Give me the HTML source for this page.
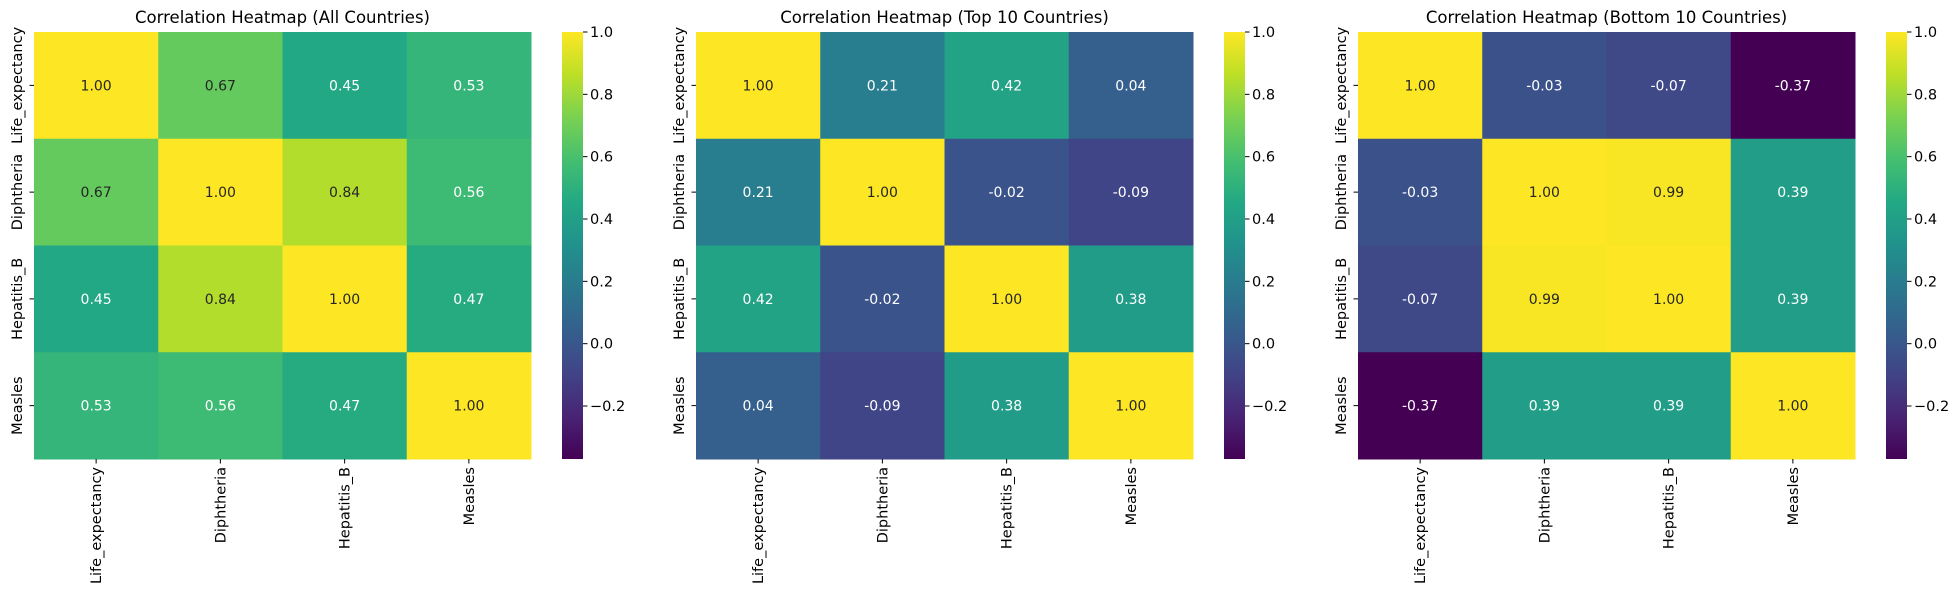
<!DOCTYPE html>
<html><head><meta charset="utf-8">
<style>
html,body{margin:0;padding:0;background:#fff;}
svg{display:block;font-family:"DejaVu Sans","Liberation Sans",sans-serif;}
</style></head>
<body>
<svg id="fig" width="1959" height="590" viewBox="0 0 1959 590" xmlns="http://www.w3.org/2000/svg">
<defs>
<linearGradient id="viridis" x1="0" y1="1" x2="0" y2="0">
<stop offset="0" stop-color="#440154"/><stop offset="0.1" stop-color="#482475"/><stop offset="0.2" stop-color="#414487"/><stop offset="0.3" stop-color="#355f8d"/><stop offset="0.4" stop-color="#2a788e"/><stop offset="0.5" stop-color="#21918c"/><stop offset="0.6" stop-color="#22a884"/><stop offset="0.7" stop-color="#44bf70"/><stop offset="0.8" stop-color="#7ad151"/><stop offset="0.9" stop-color="#bddf26"/><stop offset="1" stop-color="#fde725"/>
</linearGradient>
</defs>
</svg>
<script>
const variables = ["Life_expectancy","Diphtheria","Hepatitis_B","Measles"];
const titles = ["Correlation Heatmap (All Countries)","Correlation Heatmap (Top 10 Countries)","Correlation Heatmap (Bottom 10 Countries)"];
const matrixAll = [[1.00,0.67,0.45,0.53],[0.67,1.00,0.84,0.56],[0.45,0.84,1.00,0.47],[0.53,0.56,0.47,1.00]];
const matrixTop = [[1.00,0.21,0.42,0.04],[0.21,1.00,-0.02,-0.09],[0.42,-0.02,1.00,0.38],[0.04,-0.09,0.38,1.00]];
const matrixBottom = [[1.00,-0.03,-0.07,-0.37],[-0.03,1.00,0.99,0.39],[-0.07,0.99,1.00,0.39],[-0.37,0.39,0.39,1.00]];
const cbTicks = [1.0,0.8,0.6,0.4,0.2,0.0,-0.2];
const vmin = -0.37, vmax = 1.0;

const NS="http://www.w3.org/2000/svg";
const svgRoot=document.getElementById('fig');
const vStops=["#440154","#482475","#414487","#355f8d","#2a788e","#21918c","#22a884","#44bf70","#7ad151","#bddf26","#fde725"];
function hexRgb(h){return [1,3,5].map(i=>parseInt(h.substr(i,2),16));}
function viridis(t){t=Math.max(0,Math.min(1,t));const p=t*10;const i=Math.min(9,Math.floor(p));const f=p-i;const a=hexRgb(vStops[i]),b=hexRgb(vStops[i+1]);return 'rgb('+a.map((v,k)=>Math.round(v+(b[k]-v)*f)).join(',')+')';}
function mk(tag,attrs,parent){const e=document.createElementNS(NS,tag);for(const k in attrs)e.setAttribute(k,attrs[k]);(parent||svgRoot).appendChild(e);return e;}

const matrices=[matrixAll,matrixTop,matrixBottom];
const panelNames=["all","top10","bottom10"];
const plotTop=32, plotBottom=459, plotH=plotBottom-plotTop;
matrices.forEach((m,p)=>{
  const off=p*662;
  const left=34+off, right=531+off, W=right-left;
  const n=variables.length, cw=W/n, ch=plotH/n;
  const xs=i=>left+i*cw, ys=j=>plotTop+j*ch;
  const g=mk('g',{});
  
  
  const t=mk('text',{x:(left+right)/2,y:23,'text-anchor':'middle','font-size':'16.5',fill:'#000'},g);
  
  
  t.textContent=titles[p];
  for(let r=0;r<n;r++)for(let c=0;c<n;c++){
    const v=m[r][c]; const nt=(v-vmin)/(vmax-vmin);
    const rc=mk('rect',{x:xs(c),y:ys(r),width:cw+0.5,height:ch+0.5,fill:viridis(nt)},g);
    
    
    const tx=mk('text',{x:xs(c)+cw/2,y:ys(r)+ch/2+5,'text-anchor':'middle','font-size':'14',fill:nt>0.72?'#262626':'#ffffff'},g);
    
    
    tx.textContent=v.toFixed(2);
  }
  variables.forEach((name,i)=>{
    const cy=ys(i)+ch/2;
    mk('line',{x1:left-4.5,x2:left,y1:cy,y2:cy,stroke:'#000','stroke-width':1},g);
    const yl=mk('text',{x:0,y:0,'text-anchor':'middle','font-size':'14.5',fill:'#000',transform:`translate(${left-12},${cy}) rotate(-90)`},g);
    
    
    yl.textContent=name;
    const cx=xs(i)+cw/2;
    mk('line',{x1:cx,x2:cx,y1:plotBottom,y2:plotBottom+4.5,stroke:'#000','stroke-width':1},g);
    const xl=mk('text',{x:0,y:0,'text-anchor':'end','font-size':'14.5',fill:'#000',transform:`translate(${cx+5},${plotBottom+8}) rotate(-90)`},g);
    
    
    xl.textContent=name;
  });
  const cbl=562+off, cbr=583+off;
  const cb=mk('rect',{x:cbl,y:plotTop,width:cbr-cbl,height:plotH,fill:'url(#viridis)'},g);
  
  
  const cys=v=>plotBottom-(v-vmin)/(vmax-vmin)*plotH;
  cbTicks.forEach(v=>{
    const y=cys(v);
    mk('line',{x1:cbr,x2:cbr+4.5,y1:y,y2:y,stroke:'#000','stroke-width':1},g);
    const ct=mk('text',{x:cbr+7,y:y+5,'font-size':'14.5',fill:'#000'},g);
    
    
    ct.textContent=(v<0?'\u2212'+Math.abs(v).toFixed(1):v.toFixed(1));
  });
});
</script>
</body></html>
